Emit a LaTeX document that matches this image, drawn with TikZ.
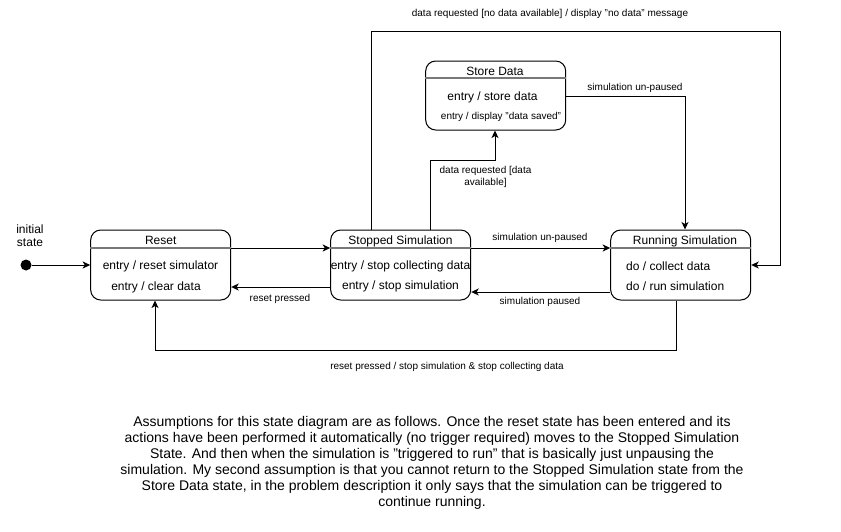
\documentclass[tikz,border=0pt]{standalone}
\usepackage{fontspec}
\setmainfont{Liberation Sans}
\usetikzlibrary{arrows.meta}
\begin{document}
\begin{tikzpicture}[x=1pt,y=-1pt,
  state/.style={draw, rounded corners=10pt, minimum width=140pt, minimum height=70pt, inner sep=0pt, line width=1pt},
  arr/.style={draw, line width=1pt, -{Stealth[length=7.5pt,width=7pt,inset=2pt]}},
  lbl/.style={font=\fontsize{10}{12}\selectfont, inner sep=0pt},
  txt/.style={font=\fontsize{12}{14}\selectfont, inner sep=0pt},
  sep/.style={draw={rgb,255:red,120;green,120;blue,120}, line width=1.6pt}
]
\fill[white] (0,0) rectangle (841,531);
\useasboundingbox (0,0) rectangle (841,531);

% states
\node[state] (reset) at (160.7,265) {};
\node[state] (stopped) at (400.7,265) {};
\node[state] (running) at (680.7,265) {};
\node[state, minimum height=69pt] (store) at (495.7,95.5) {};

% helper coordinates
\coordinate (yh) at (0,248);
\coordinate (ys) at (0,78);
\coordinate (ylow) at (0,287);
\coordinate (ylow2) at (0,292);
\coordinate (b1) at (676,350);
\coordinate (b2) at (155,350);
\coordinate (s1) at (430,160);
\coordinate (s2) at (495,160);
\coordinate (t1) at (371,31);
\coordinate (t2) at (780,31);
\coordinate (t3) at (780,265);
\coordinate (u1) at (685,96);

% separators
\draw[sep] (reset.west |- yh) -- (reset.east |- yh);
\draw[sep] (stopped.west |- yh) -- (stopped.east |- yh);
\draw[sep] (running.west |- yh) -- (running.east |- yh);
\draw[sep] (store.west |- ys) -- (store.east |- ys);

% state texts
\node[txt] (resetT) at (160.7,240.5) {Reset};
\node[txt] (resetA) at (160.5,266) {entry / reset simulator};
\node[txt] (resetB) at (156,287) {entry / clear data};

\node[txt] (stopT) at (400.5,241) {Stopped Simulation};
\node[txt] (stopA) at (400.5,266) {entry / stop collecting data};
\node[txt] (stopB) at (400.5,286.5) {entry / stop simulation};

\node[txt] (runT) at (685,241) {Running Simulation};
\node[txt, anchor=west] (runA) at (626,266) {do / collect data};
\node[txt, anchor=west] (runB) at (626,286.5) {do / run simulation};

\node[txt] (storeT) at (495,71) {Store Data};
\node[txt] (storeA) at (492.5,97) {entry / store data};
\node[lbl] (storeB) at (501,117) {entry / display "data saved"};

% initial state
\node[circle, fill=black, minimum size=11pt, inner sep=0pt] (init) at (26,265) {};
\node[txt, align=center, font=\fontsize{12}{13}\selectfont] (initL) at (30,236) {initial\\state};

% transitions
\draw[arr] (init) -- (reset.west);
\draw[arr] (reset.east |- yh) -- (stopped.west |- yh);
\draw[arr] (stopped.west |- ylow) -- (reset.east |- ylow);
\draw[arr] (stopped.east |- yh) -- (running.west |- yh);
\draw[arr] (running.west |- ylow2) -- (stopped.east |- ylow2);
\draw[arr] (running.south -| b1) -- (b1) -- (b2) -- (reset.south -| b2);
\draw[arr] (stopped.north -| s1) -- (s1) -- (s2) -- (store.south -| s2);
\draw[arr] (stopped.north -| t1) -- (t1) -- (t2) -- (t3) -- (running.east |- t3);
\draw[arr] (store.east |- u1) -- (u1) -- (running.north -| u1);

% transition labels
\node[lbl] (l1) at (280,298.5) {reset pressed};
\node[lbl] (l2) at (540,237.5) {simulation un-paused};
\node[lbl] (l3) at (540,301.5) {simulation paused};
\node[lbl] (l4) at (447,366.5) {reset pressed / stop simulation \& stop collecting data};
\node[lbl, align=center, font=\fontsize{10}{12}\selectfont] (l5) at (485.5,177) {data requested [data\\available]};
\node[lbl] (l6) at (550,13.5) {data requested [no data available] / display "no data" message};
\node[lbl] (l7) at (635,87.5) {simulation un-paused};

% note
\node[inner sep=0pt, align=center, font=\fontsize{14}{16}\selectfont] (note) at (432,462.5) {Assumptions for this state diagram are as follows. Once the reset state has been entered and its\\
actions have been performed it automatically (no trigger required) moves to the Stopped Simulation\\
State. And then when the simulation is "triggered to run" that is basically just unpausing the\\
simulation. My second assumption is that you cannot return to the Stopped Simulation state from the\\
Store Data state, in the problem description it only says that the simulation can be triggered to\\
continue running.};
\end{tikzpicture}
\end{document}
